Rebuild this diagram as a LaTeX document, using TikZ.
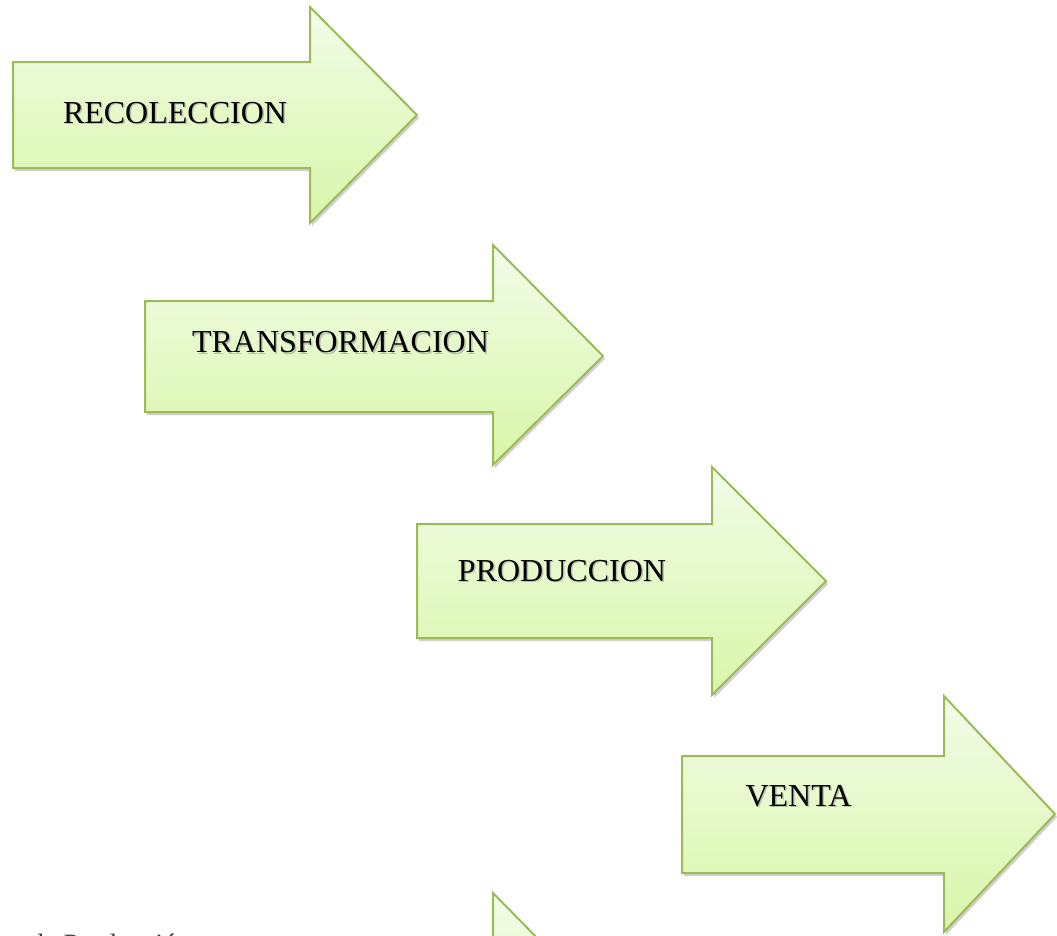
\documentclass[tikz,border=0pt]{standalone}
\usepackage{fontspec}
\setmainfont{Liberation Serif}
\usetikzlibrary{shadows}
\definecolor{gline}{RGB}{155,187,89}
\definecolor{gtop}{RGB}{242,252,232}
\definecolor{gbot}{RGB}{216,246,168}
\tikzset{
  garrow/.style={draw=gline, line width=2pt, line join=miter, top color=gtop, bottom color=gbot,
    drop shadow={opacity=0.3, shadow xshift=2pt, shadow yshift=-3pt, fill=black!60}},
  lbl/.style={font=\fontsize{32}{36}\selectfont, text=black, inner sep=0pt},
  lblshade/.style={font=\fontsize{32}{36}\selectfont, text=black!60, opacity=0.35, inner sep=0pt},
}
% #1 left, #2 body top, #3 body bottom, #4 head x, #5 head top, #6 head bottom, #7 tip x, #8 tip y
\newcommand{\greenarrow}[8]{%
  \path[garrow] (#1,#2) -- (#4,#2) -- (#4,#5) -- (#7,#8) -- (#4,#6) -- (#4,#3) -- (#1,#3) -- cycle;}
\begin{document}
\begin{tikzpicture}[x=1pt,y=-1pt]
  \useasboundingbox (0,0) rectangle (1057,935);
  \clip (0,0) rectangle (1057,935);
  \fill[white] (0,0) rectangle (1057,935);

  \greenarrow{13}{62}{168}{310}{7}{223}{417}{115}
  \greenarrow{145}{301}{412}{493}{245}{465}{603}{356}
  \greenarrow{417}{524}{638}{712}{467}{695}{826}{581}
  \greenarrow{682}{756}{873}{944}{696}{932}{1055}{814}
  \greenarrow{230}{950}{1064}{493}{893}{1121}{605}{1007}

  \node[lblshade] (s1) at (176.5,114.5) {RECOLECCION};
  \node[lbl] (t1) at (175,113) {RECOLECCION};
  \node[lblshade] (s2) at (342,344) {TRANSFORMACION};
  \node[lbl] (t2) at (340.5,342.5) {TRANSFORMACION};
  \node[lblshade] (s3) at (563.5,572.5) {PRODUCCION};
  \node[lbl] (t3) at (562,571) {PRODUCCION};
  \node[lblshade] (s4) at (800,797.5) {VENTA};
  \node[lbl] (t4) at (798.5,796) {VENTA};

  \node[anchor=base west, inner sep=0pt, font=\fontsize{28}{32}\selectfont, text=black!75] (foot) at (30,953) {de Producción};
\end{tikzpicture}
\end{document}
